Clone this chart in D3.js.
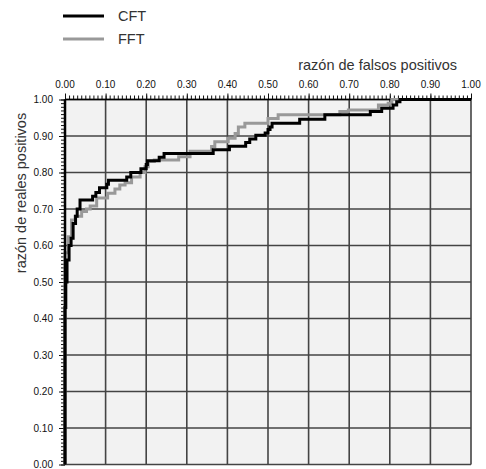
<!DOCTYPE html>
<html>
<head>
<meta charset="utf-8">
<script src="https://cdn.jsdelivr.net/npm/d3@7"></script>
<style>
  html, body { margin: 0; padding: 0; background: #fff; }
  svg { display: block; font-family: "Liberation Sans", Arial, sans-serif; }
  .tick-label { font-size: 10px; fill: #111; }
  .axis-title { font-size: 14.5px; fill: #333; }
</style>
</head>
<body>
<div id="chart"></div>
<script>
// DATA

const seriesNames = ["CFT", "FFT"];

// ROC corner points: (false positive rate, true positive rate)
const cftFpr = [0, 0, 0.002, 0.005, 0.010, 0.015, 0.020, 0.026, 0.030, 0.037, 0.068, 0.076, 0.085,
  0.103, 0.107, 0.152, 0.162, 0.187, 0.200, 0.203, 0.232, 0.244, 0.365, 0.405, 0.445, 0.455,
  0.470, 0.493, 0.500, 0.505, 0.510, 0.578, 0.640, 0.752, 0.780, 0.808, 0.817, 0.825, 1.0];
const cftTpr = [0, 0.43, 0.50, 0.56, 0.60, 0.62, 0.66, 0.68, 0.70, 0.725, 0.735, 0.745, 0.758,
  0.768, 0.779, 0.788, 0.800, 0.810, 0.822, 0.832, 0.842, 0.852, 0.862, 0.872, 0.882, 0.892,
  0.902, 0.908, 0.918, 0.925, 0.935, 0.946, 0.958, 0.967, 0.976, 0.985, 0.994, 1.0, 1.0];

const fftFpr = [0, 0, 0.008, 0.016, 0.025, 0.041, 0.053, 0.062, 0.078, 0.105, 0.123, 0.135, 0.148,
  0.164, 0.185, 0.197, 0.205, 0.220, 0.280, 0.308, 0.361, 0.369, 0.402, 0.419, 0.427, 0.443,
  0.500, 0.525, 0.677, 0.698, 0.772, 0.796, 0.805, 1.0];
const fftTpr = [0, 0.58, 0.624, 0.670, 0.680, 0.693, 0.700, 0.708, 0.730, 0.743, 0.755, 0.766, 0.772,
  0.788, 0.800, 0.816, 0.830, 0.834, 0.843, 0.858, 0.871, 0.884, 0.894, 0.907, 0.925, 0.935,
  0.948, 0.958, 0.967, 0.971, 0.985, 0.990, 1.0, 1.0];

const majorTicks = d3.range(0, 11).map((i) => i / 10);
const minorTicks = d3.range(0, 101).map((i) => i / 100);

// LAYOUT

const width = 486, height = 469;
const margin = { top: 99.5, left: 65 };
const plotW = 406, plotH = 365;

const svg = d3.select("#chart").append("svg")
  .attr("width", width)
  .attr("height", height);

const x = d3.scaleLinear().domain([0, 1]).range([margin.left, margin.left + plotW]);
const y = d3.scaleLinear().domain([0, 1]).range([margin.top + plotH, margin.top]);

// PLOT BACKGROUND + GRID

svg.append("rect")
  .attr("x", x(0)).attr("y", y(1))
  .attr("width", plotW).attr("height", plotH)
  .attr("fill", "#f2f2f2");

const grid = svg.append("g").attr("stroke", "#444").attr("stroke-width", 1.6);
majorTicks.forEach((t) => {
  grid.append("line").attr("x1", x(t)).attr("x2", x(t)).attr("y1", y(0)).attr("y2", y(1));
  grid.append("line").attr("x1", x(0)).attr("x2", x(1)).attr("y1", y(t)).attr("y2", y(t));
});

// AXES (ticks only, labels drawn separately)

function tickAxis(axisFn, scale, values, size) {
  return axisFn(scale).tickValues(values).tickSize(size).tickSizeOuter(0).tickFormat("");
}

const topG = svg.append("g").attr("transform", `translate(0,${y(1)})`);
topG.append("g").call(tickAxis(d3.axisTop, x, minorTicks, 4));
topG.append("g").call(tickAxis(d3.axisTop, x, majorTicks, 6));
topG.selectAll(".domain").remove();
topG.selectAll("line").attr("stroke", "#111");

const leftG = svg.append("g").attr("transform", `translate(${x(0)},0)`);
leftG.append("g").call(tickAxis(d3.axisLeft, y, minorTicks, 4));
leftG.append("g").call(tickAxis(d3.axisLeft, y, majorTicks, 6));
leftG.selectAll(".domain").remove();
leftG.selectAll("line").attr("stroke", "#111");

svg.append("line")
  .attr("x1", x(0)).attr("x2", x(1)).attr("y1", y(1)).attr("y2", y(1))
  .attr("stroke", "#000").attr("stroke-width", 1.5);

// tick labels
svg.append("g").selectAll("text")
  .data(majorTicks).join("text")
  .attr("class", "tick-label")
  .attr("x", (d) => x(d)).attr("y", 88)
  .attr("text-anchor", "middle")
  .text((d) => d.toFixed(2));

svg.append("g").selectAll("text")
  .data(majorTicks).join("text")
  .attr("class", "tick-label")
  .attr("x", 53).attr("y", (d) => y(d) + 3.5)
  .attr("text-anchor", "end")
  .text((d) => d.toFixed(2));

// axis titles
svg.append("text")
  .attr("class", "axis-title")
  .attr("x", 457).attr("y", 70)
  .attr("text-anchor", "end")
  .text("razón de falsos positivos");

svg.append("text")
  .attr("class", "axis-title")
  .attr("transform", "translate(26,193) rotate(-90)")
  .attr("text-anchor", "middle")
  .text("razón de reales positivos");

// CURVES

const line = d3.line()
  .x((d) => x(d[0]))
  .y((d) => y(d[1]))
  .curve(d3.curveStepAfter);

const curves = [
  { name: seriesNames[1], pts: d3.zip(fftFpr, fftTpr), color: "#999" },
  { name: seriesNames[0], pts: d3.zip(cftFpr, cftTpr), color: "#000" },
];

curves.forEach((c) => {
  svg.append("path")
    .datum(c.pts)
    .attr("d", line)
    .attr("fill", "none")
    .attr("stroke", c.color)
    .attr("stroke-width", 3)
    .attr("stroke-linejoin", "miter");
});

// left axis line drawn over the curves
svg.append("line")
  .attr("x1", x(0)).attr("x2", x(0)).attr("y1", y(0)).attr("y2", y(1))
  .attr("stroke", "#000").attr("stroke-width", 2.5);

// LEGEND

const legend = svg.append("g");
[{ name: seriesNames[0], color: "#000" }, { name: seriesNames[1], color: "#999" }].forEach((d, i) => {
  const ly = 16 + i * 23;
  legend.append("line")
    .attr("x1", 63).attr("x2", 104).attr("y1", ly).attr("y2", ly)
    .attr("stroke", d.color).attr("stroke-width", 3);
  legend.append("text")
    .attr("class", "axis-title")
    .attr("x", 118).attr("y", ly + 5)
    .text(d.name);
});
</script>
</body>
</html>
